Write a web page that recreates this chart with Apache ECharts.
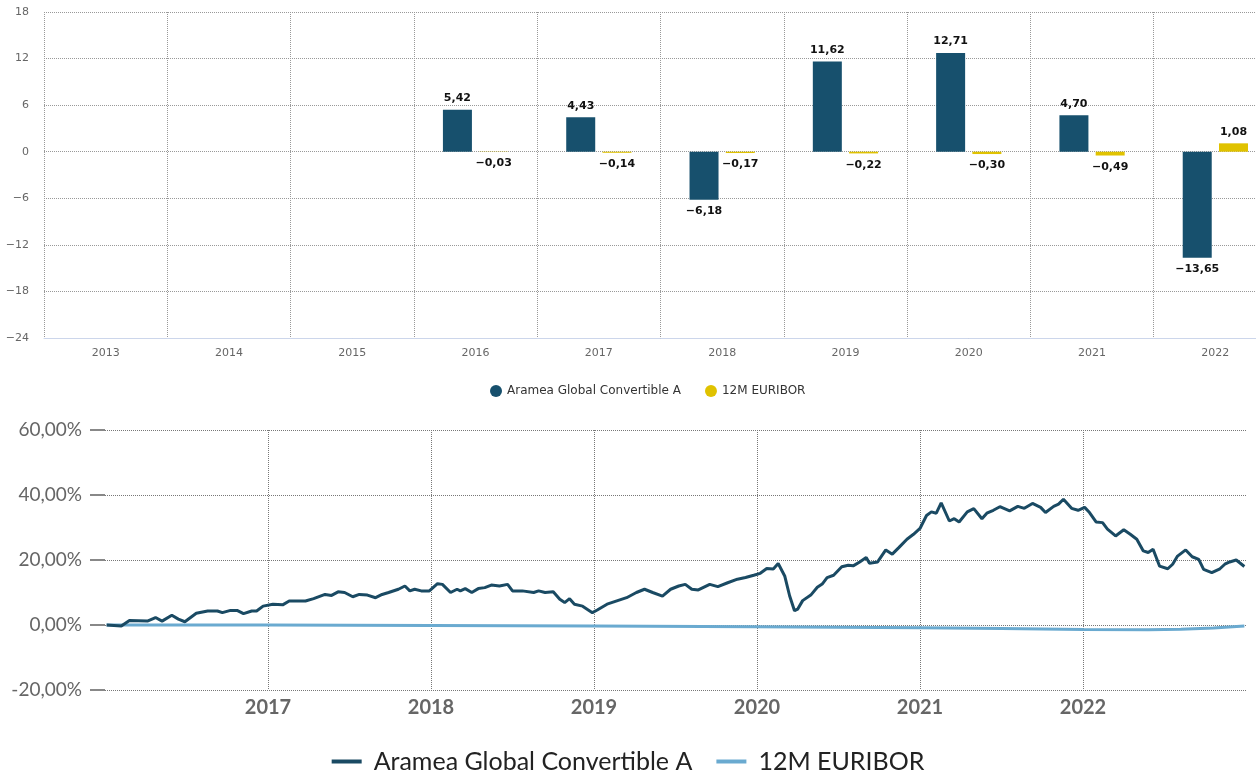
<!DOCTYPE html>
<html>
<head>
<meta charset="utf-8">
<script src="https://cdn.jsdelivr.net/npm/echarts@6/dist/echarts.min.js"></script>
<style>
  html, body { margin: 0; padding: 0; background: #fff; overflow: hidden; }
  #bars { position: absolute; left: 0; top: 0; width: 1280px; height: 400px; }
  #perf { position: absolute; left: 0; top: 400px; width: 1256px; height: 373px; }
</style>
</head>
<body>
<div id="bars"></div>
<div id="perf"></div>
<script>
// jährliche Rendite
var years = ['2013', '2014', '2015', '2016', '2017', '2018', '2019', '2020', '2021', '2022'];
var fundAnnual = [null, null, null, 5.42, 4.43, -6.18, 11.62, 12.71, 4.70, -13.65];
var euriborAnnual = [null, null, null, -0.03, -0.14, -0.17, -0.22, -0.30, -0.49, 1.08];

// Wertentwicklung kumuliert (Zeit in Jahren, Wert in %)
var fundTime = [
  2016.01, 2016.10, 2016.15, 2016.26, 2016.31, 2016.35, 2016.41, 2016.45, 2016.49, 2016.56,
  2016.63, 2016.69, 2016.72, 2016.77, 2016.81, 2016.85, 2016.90, 2016.93, 2016.97, 2017.03,
  2017.09, 2017.13, 2017.23, 2017.28, 2017.35, 2017.39, 2017.43, 2017.47, 2017.52, 2017.56,
  2017.61, 2017.66, 2017.70, 2017.74, 2017.80, 2017.84, 2017.87, 2017.90, 2017.94, 2017.99,
  2018.04, 2018.07, 2018.12, 2018.16, 2018.18, 2018.21, 2018.25, 2018.29, 2018.33, 2018.37,
  2018.42, 2018.47, 2018.50, 2018.56, 2018.63, 2018.66, 2018.70, 2018.75, 2018.79, 2018.82,
  2018.85, 2018.88, 2018.93, 2018.99, 2019.02, 2019.08, 2019.14, 2019.20, 2019.26, 2019.31,
  2019.36, 2019.42, 2019.47, 2019.52, 2019.56, 2019.60, 2019.64, 2019.71, 2019.76, 2019.82,
  2019.88, 2019.93, 2019.98, 2020.02, 2020.06, 2020.10, 2020.13, 2020.17, 2020.20, 2020.23,
  2020.25, 2020.28, 2020.33, 2020.37, 2020.40, 2020.43, 2020.47, 2020.52, 2020.56, 2020.59,
  2020.63, 2020.67, 2020.69, 2020.74, 2020.79, 2020.83, 2020.87, 2020.92, 2020.96, 2021.00,
  2021.04, 2021.07, 2021.10, 2021.13, 2021.18, 2021.21, 2021.24, 2021.29, 2021.33, 2021.38,
  2021.41, 2021.45, 2021.49, 2021.55, 2021.60, 2021.64, 2021.69, 2021.74, 2021.77, 2021.82,
  2021.85, 2021.88, 2021.93, 2021.97, 2022.01, 2022.04, 2022.08, 2022.12, 2022.15, 2022.20,
  2022.25, 2022.29, 2022.33, 2022.37, 2022.40, 2022.43, 2022.47, 2022.52, 2022.55, 2022.58,
  2022.63, 2022.67, 2022.71, 2022.74, 2022.79, 2022.84, 2022.87, 2022.90, 2022.94, 2022.99
];
var fundPerf = [
  0.0, -0.3, 1.4, 1.2, 2.3, 1.2, 3.0, 1.8, 1.0, 3.6,
  4.3, 4.3, 3.8, 4.5, 4.5, 3.5, 4.3, 4.3, 5.8, 6.4,
  6.2, 7.4, 7.4, 8.1, 9.4, 9.1, 10.2, 10.0, 8.7, 9.4,
  9.2, 8.4, 9.4, 10.0, 11.0, 12.0, 10.5, 11.0, 10.5, 10.5,
  12.7, 12.5, 10.0, 11.0, 10.5, 11.2, 10.0, 11.2, 11.5, 12.3,
  12.0, 12.5, 10.5, 10.5, 10.0, 10.5, 10.0, 10.2, 7.9, 6.9,
  8.1, 6.4, 5.8, 3.8, 4.6, 6.4, 7.4, 8.4, 10.0, 11.0,
  10.0, 8.9, 11.0, 12.0, 12.5, 11.0, 10.8, 12.5, 11.8, 13.0,
  14.1, 14.6, 15.3, 15.9, 17.4, 17.2, 18.9, 15.1, 9.0, 4.4,
  4.9, 7.5, 9.2, 11.6, 12.6, 14.6, 15.3, 17.9, 18.4, 18.2,
  19.4, 20.8, 19.0, 19.4, 23.1, 21.8, 23.8, 26.4, 27.9, 29.7,
  33.7, 34.8, 34.4, 37.6, 32.0, 32.7, 31.7, 34.8, 35.8, 32.7,
  34.4, 35.3, 36.4, 35.1, 36.5, 35.9, 37.4, 36.2, 34.6, 36.5,
  37.2, 38.7, 35.9, 35.3, 36.2, 34.6, 31.7, 31.5, 29.5, 27.4,
  29.3, 27.9, 26.4, 22.8, 22.3, 23.3, 18.1, 17.3, 18.7, 21.2,
  23.1, 21.0, 20.2, 17.1, 16.1, 17.3, 18.7, 19.4, 20.0, 18.0
];
var euriborTime = [2016.01, 2017.0, 2018.0, 2019.0, 2020.0, 2021.0, 2021.5, 2022.0, 2022.4, 2022.6, 2022.8, 2022.99];
var euriborPerf = [0.0, -0.03, -0.17, -0.34, -0.56, -0.86, -1.1, -1.35, -1.45, -1.3, -0.9, -0.3];

var fundName = 'Aramea Global Convertible A';
var euriborName = '12M EURIBOR';

function deNum(v) {
  return v.toFixed(2).replace('.', ',').replace('-', '\u2212');
}

function pairs(xs, ys) {
  return xs.map(function (x, i) { return [x, ys[i]]; });
}

function barData(vals) {
  return vals.map(function (v) {
    if (v === null) return null;
    return { value: v, label: { position: v < 0 ? 'bottom' : 'top' } };
  });
}

//Balkendiagramm
var chart_bars = echarts.init(document.getElementById('bars'));
var optionBars = {
  animation: false,
  textStyle: { fontFamily: 'DejaVu Sans' },
  grid: { left: 44, top: 12, right: 3, height: 326 },
  legend: {
    top: 380,
    left: 485,
    icon: 'circle',
    itemWidth: 12,
    itemHeight: 12,
    itemGap: 24,
    textStyle: { fontSize: 12, color: '#333', fontFamily: 'DejaVu Sans' },
    data: [fundName, euriborName]
  },
  xAxis: {
    type: 'category',
    data: years,
    axisLine: { onZero: false, lineStyle: { color: '#ccd6eb' } },
    axisTick: { show: false },
    axisLabel: { color: '#666', fontSize: 11, margin: 10 },
    splitLine: { show: true, lineStyle: { type: 'dotted', color: '#999' } }
  },
  yAxis: {
    type: 'value',
    min: -24,
    max: 18,
    interval: 6,
    axisLabel: {
      color: '#666', fontSize: 11, margin: 15,
      formatter: function (v) { return String(v).replace('-', '\u2212'); }
    },
    splitLine: { lineStyle: { type: 'dotted', color: '#999' } }
  },
  series: [
    {
      name: fundName,
      type: 'bar',
      barWidth: 29,
      barGap: '25%',
      itemStyle: { color: '#17506d' },
      label: {
        show: true, distance: 6, color: '#111', fontSize: 11, fontWeight: 'bold',
        formatter: function (p) { return deNum(p.value); }
      },
      data: barData(fundAnnual)
    },
    {
      name: euriborName,
      type: 'bar',
      barWidth: 29,
      itemStyle: { color: '#e0c200' },
      label: {
        show: true, distance: 6, color: '#111', fontSize: 11, fontWeight: 'bold',
        formatter: function (p) { return deNum(p.value); }
      },
      data: barData(euriborAnnual)
    }
  ]
};
chart_bars.setOption(optionBars);

//Wertentwicklung
var chart_perf = echarts.init(document.getElementById('perf'));
var optionPerf = {
  animation: false,
  grid: { left: 105, right: 10, top: 30, height: 260 },
  legend: {
    top: 344,
    left: 'center',
    icon: 'rect',
    itemWidth: 30,
    itemHeight: 4,
    itemGap: 24,
    textStyle: { fontSize: 25, color: '#222', fontFamily: 'Lato', padding: [0, 0, 0, 7] },
    data: [fundName, euriborName]
  },
  xAxis: {
    type: 'value',
    min: 2016,
    max: 2023,
    interval: 1,
    axisLine: { show: false },
    axisTick: { show: false },
    axisLabel: {
      color: '#666', fontSize: 20, fontFamily: 'Lato', fontWeight: 'bold', margin: 8,
      formatter: function (v) { return (v > 2016 && v < 2023) ? String(v) : ''; }
    },
    splitLine: { show: true, showMinLine: false, showMaxLine: false, lineStyle: { type: 'dotted', color: '#777' } }
  },
  yAxis: {
    type: 'value',
    min: -20,
    max: 60,
    interval: 20,
    axisLine: { show: false },
    axisTick: { show: true, length: 15, lineStyle: { color: '#888', width: 2 } },
    axisLabel: {
      color: '#666', fontSize: 19, fontFamily: 'Lato', margin: 23,
      formatter: function (v) { return v.toFixed(2).replace('.', ',') + '%'; }
    },
    splitLine: { lineStyle: { type: 'dotted', color: '#777' } }
  },
  series: [
    {
      name: euriborName,
      type: 'line',
      showSymbol: false,
      symbol: 'none',
      z: 2,
      lineStyle: { color: '#6aaad0', width: 3 },
      itemStyle: { color: '#6aaad0' },
      data: pairs(euriborTime, euriborPerf)
    },
    {
      name: fundName,
      type: 'line',
      showSymbol: false,
      symbol: 'none',
      z: 3,
      lineStyle: { color: '#1a4a63', width: 3 },
      itemStyle: { color: '#1a4a63' },
      data: pairs(fundTime, fundPerf)
    }
  ]
};
chart_perf.setOption(optionPerf);
</script>
</body>
</html>
